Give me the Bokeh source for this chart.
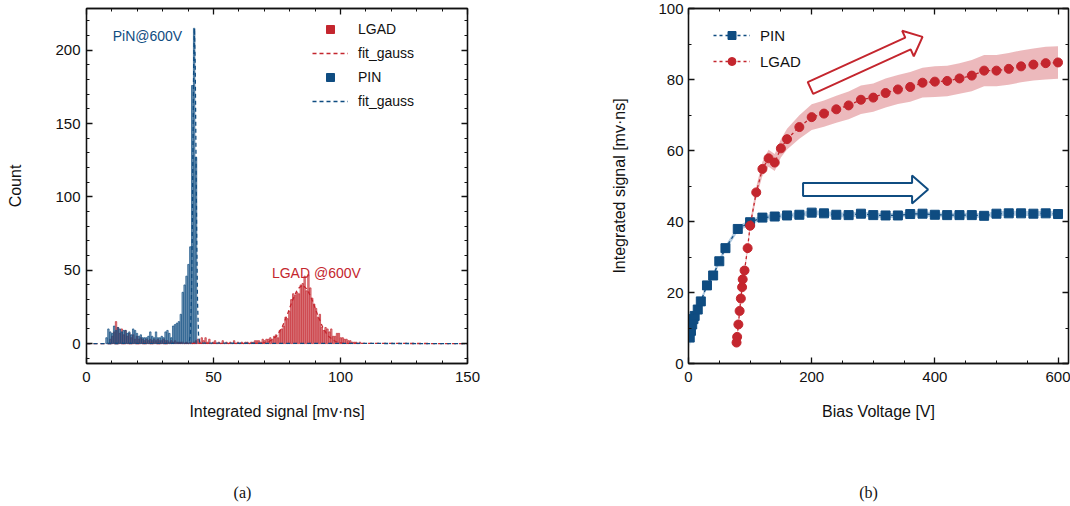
import numpy as np
from bokeh.plotting import figure
from bokeh.models import (ColumnDataSource, LinearAxis, SingleIntervalTicker, Legend,
                          LegendItem, Label, Range1d, CustomJSTickFormatter)
from bokeh.layouts import row, column
from bokeh.embed import file_html
from bokeh.resources import INLINE

# ---------------- data, panel (a): histograms ----------------
BIN_W = 0.75            # histogram bin width [mv*ns]
pin_first_bin = 10      # index of first listed PIN bin
pin_counts = [4, 10, 8, 7, 12, 9, 11, 10, 8, 9, 9, 7, 8, 6, 10, 9, 7, 5, 6, 4,
              4, 4, 5, 8, 5, 4, 8, 4, 4, 5, 4, 8, 9, 7, 4, 12, 13, 14, 15, 20,
              35, 40, 46, 54, 66, 176, 215, 127]
lgad_first_bin = 12     # index of first listed LGAD bin
lgad_counts = [3, 5, 8, 15, 11, 7, 10, 6, 9, 5, 7, 4, 6, 3, 5, 3, 4, 3, 2, 3,
               2, 3, 2, 3, 2, 3, 2, 2, 3, 2, 2, 1, 2, 1, 2, 1, 1, 1, 1, 0,
               1, 0, 1, 0, 1, 2,
               3, 1, 4, 2, 4, 1, 3, 0, 1, 2, 0, 1, 0, 2, 0, 1, 0, 1, 0, 2,
               0, 1, 0, 1, 0, 1, 1, 0, 1, 1, 2,
               2, 2, 1, 3, 2, 3, 3, 4, 3, 5, 6, 4, 9, 10, 12, 18, 17, 22, 30, 34,
               33, 35, 34, 40, 41, 46, 36, 47, 38, 31, 27, 24, 18, 20, 11, 9, 11, 10, 8, 10,
               5, 5, 7, 7, 4, 4, 3, 3, 2, 2, 1, 1, 1, 0, 1]
pin_fit_x = [0, 40.4, 40.9, 41.3, 41.6, 41.9, 42.2, 42.5, 42.8, 43.1, 43.4, 43.7, 44.1, 44.6, 150]
pin_fit_y = [0, 0.3, 6, 29, 70, 130, 190, 215, 190, 130, 70, 29, 6, 0.3, 0]
lgad_fit_x = [0, 69, 72, 75, 77, 79, 81, 83, 85, 87, 89, 91, 93, 95, 98, 101, 150]
lgad_fit_y = [0, 0.2, 1.4, 5.4, 11.1, 19.5, 29, 36.9, 40, 36.9, 29, 19.5, 11.1, 5.4, 1.4, 0.2, 0]

# ---------------- data, panel (b): signal vs bias ----------------
pin_v = [2, 4, 6, 8, 10, 15, 20, 30, 40, 50, 60, 80,
         100, 120, 140, 160, 180, 200, 220, 240, 260, 280, 300, 320, 340,
         360, 380, 400, 420, 440, 460, 480, 500, 520, 540, 560, 580, 600]
pin_sig = [7.3, 9.2, 11.0, 12.5, 13.4, 15.2, 17.5, 22.0, 24.8, 28.8, 32.5, 37.9,
           39.8, 41.1, 41.4, 41.7, 41.9, 42.5, 42.3, 41.9, 41.8, 42.2, 41.8, 41.7, 41.7,
           42.1, 42.2, 41.9, 41.8, 41.8, 41.8, 41.6, 42.2, 42.3, 42.3, 42.2, 42.3, 42.1]
pin_err = [3.0, 2.0, 1.5, 1.2, 1.0, 0.9, 0.8, 0.8, 0.8, 0.8, 0.8, 0.8,
           0.7, 0.7, 0.7, 0.7, 0.7, 0.7, 0.7, 0.7, 0.7, 0.7, 0.7, 0.7, 0.7,
           0.7, 0.7, 0.7, 0.7, 0.7, 0.7, 0.7, 0.7, 0.7, 0.7, 0.7, 0.7, 0.7]
lgad_v = [78, 79, 81, 83, 85, 87, 88, 91, 96, 100, 110, 120, 130, 140, 150, 160, 180,
          200, 220, 240, 260, 280, 300, 320, 340, 360, 380, 400, 420, 440, 460, 480,
          500, 520, 540, 560, 580, 600]
lgad_sig = [5.9, 7.5, 11.0, 14.8, 18.3, 21.5, 23.7, 26.2, 32.5, 38.8, 48.2, 54.8, 57.8,
            56.6, 60.6, 63.2, 66.6, 69.4, 70.4, 71.6, 72.7, 74.3, 74.9, 76.2, 77.2, 77.9,
            79.1, 79.4, 79.6, 80.3, 81.1, 82.5, 82.5, 83.0, 83.7, 84.2, 84.6, 84.8]
lgad_err = [0.8, 0.8, 0.8, 0.8, 0.8, 0.8, 0.8, 0.8, 1.0, 1.2, 1.6, 2.0, 2.4, 2.4, 2.6,
            2.9, 3.3, 3.6, 3.7, 3.8, 3.9, 4.0, 4.0, 4.1, 4.1, 4.2, 4.2, 4.3, 4.3, 4.3,
            4.4, 4.4, 4.4, 4.5, 4.5, 4.5, 4.6, 4.6]

# arrows (tail, tip) in data coordinates of panel (b)
red_arrow = (198, 77.6, 380, 92.0)
blue_arrow = (186, 49.0, 389, 49.0)

captions = ["(a)", "(b)"]

FONT = "Liberation Sans"
RED = "#c4262e"
BLUE = "#0f4c81"
BLACK = "#111111"

PAGE_W = 1070
CAP_H = 30
FIG_H = 506 - CAP_H
FRAME_BOTTOM = 363


def style_axis(ax, label_standoff, axis_label_standoff):
    ax.major_tick_in = 6
    ax.major_tick_out = 0
    ax.minor_tick_in = 3
    ax.minor_tick_out = 0
    ax.axis_line_width = 1.3
    ax.axis_line_color = BLACK
    ax.major_tick_line_width = 1.3
    ax.major_tick_line_color = BLACK
    ax.minor_tick_line_color = BLACK
    ax.major_label_text_font = FONT
    ax.major_label_text_font_size = "15px"
    ax.major_label_text_color = BLACK
    ax.major_label_standoff = label_standoff
    ax.axis_label_text_font = FONT
    ax.axis_label_text_font_size = "16px"
    ax.axis_label_text_font_style = "normal"
    ax.axis_label_text_color = BLACK
    ax.axis_label_standoff = axis_label_standoff


def mirror_axis(ticker):
    ax = LinearAxis(ticker=ticker, formatter=CustomJSTickFormatter(code="return '';"))
    ax.major_tick_in = 6
    ax.major_tick_out = 0
    ax.minor_tick_in = 3
    ax.minor_tick_out = 0
    ax.axis_line_width = 1.3
    ax.axis_line_color = BLACK
    ax.major_tick_line_width = 1.3
    ax.major_tick_line_color = BLACK
    ax.minor_tick_line_color = BLACK
    ax.major_label_standoff = 0
    return ax


# ======================= panel (a) =======================
WA = 560
TOP_A = 6
pa = figure(width=WA, height=FIG_H, output_backend="svg", toolbar_location=None,
            x_range=Range1d(0, 150), y_range=Range1d(-13.56, 228.5),
            min_border_left=86, min_border_right=WA - 467, min_border_top=TOP_A,
            min_border_bottom=FIG_H - FRAME_BOTTOM)
pa.grid.visible = False
pa.outline_line_color = BLACK
pa.outline_line_width = 1.3

xt_a = SingleIntervalTicker(interval=50, num_minor_ticks=5)
yt_a = SingleIntervalTicker(interval=50, num_minor_ticks=5)
pa.xaxis.ticker = xt_a
pa.yaxis.ticker = yt_a
pa.xaxis.axis_label = "Integrated signal [mv\u00b7ns]"
pa.yaxis.axis_label = "Count"
style_axis(pa.xaxis[0], 8, 18)
style_axis(pa.yaxis[0], 6, 28)
pa.add_layout(mirror_axis(xt_a), "above")
pa.add_layout(mirror_axis(yt_a), "right")

pin_x = (pin_first_bin + np.arange(len(pin_counts)) + 0.5) * BIN_W
lgad_x = (lgad_first_bin + np.arange(len(lgad_counts)) + 0.5) * BIN_W

pa.vbar(x=lgad_x, top=lgad_counts, width=0.55, bottom=0,
        fill_color=RED, fill_alpha=0.45, line_color=RED, line_width=0.7)
pa.vbar(x=pin_x, top=pin_counts, width=0.55, bottom=0,
        fill_color=BLUE, fill_alpha=0.45, line_color=BLUE, line_width=0.7)
r_fit_l = pa.line(lgad_fit_x, lgad_fit_y, line_color=RED, line_dash="4 3", line_width=1.3)
r_fit_p = pa.line(pin_fit_x, pin_fit_y, line_color=BLUE, line_dash="4 3", line_width=1.3)
# legend-only square patches (NaN positions are never drawn in the plot)
r_sq_l = pa.scatter(x=[np.nan], y=[np.nan], marker="square", size=15, fill_color=RED, line_color=RED)
r_sq_p = pa.scatter(x=[np.nan], y=[np.nan], marker="square", size=15, fill_color=BLUE, line_color=BLUE)

leg_a = Legend(items=[LegendItem(label="LGAD", renderers=[r_sq_l]),
                      LegendItem(label="fit_gauss", renderers=[r_fit_l]),
                      LegendItem(label="PIN", renderers=[r_sq_p]),
                      LegendItem(label="fit_gauss", renderers=[r_fit_p])],
               location=(226, 252), glyph_width=36, glyph_height=20, label_height=20,
               spacing=4, padding=0, margin=0, label_standoff=10,
               border_line_color=None, background_fill_alpha=0,
               label_text_font=FONT, label_text_font_size="14px", label_text_color=BLACK)
pa.add_layout(leg_a)

pa.add_layout(Label(x=24, y=210, text="PiN@600V", text_color=BLUE, text_font=FONT,
                    text_font_size="14px", text_align="center", text_baseline="middle"))
pa.add_layout(Label(x=90.5, y=48.3, text="LGAD @600V", text_color=RED, text_font=FONT,
                    text_font_size="14px", text_align="center", text_baseline="middle"))

# ======================= panel (b) =======================
WB = PAGE_W - WA
TOP_B = 8
XB0, XB1, YB0, YB1 = 0, 617, 0, 100
FRAME_W, FRAME_H = 1068 - 688, FRAME_BOTTOM - TOP_B
pb = figure(width=WB, height=FIG_H, output_backend="svg", toolbar_location=None,
            x_range=Range1d(XB0, XB1), y_range=Range1d(YB0, YB1),
            min_border_left=688 - WA, min_border_right=2, min_border_top=TOP_B,
            min_border_bottom=FIG_H - FRAME_BOTTOM)
pb.grid.visible = False
pb.outline_line_color = BLACK
pb.outline_line_width = 1.3

xt_b = SingleIntervalTicker(interval=200, num_minor_ticks=4)
yt_b = SingleIntervalTicker(interval=20, num_minor_ticks=2)
pb.xaxis.ticker = xt_b
pb.yaxis.ticker = yt_b
pb.xaxis.axis_label = "Bias Voltage [V]"
pb.yaxis.axis_label = "Integrated signal [mv\u00b7ns]"
style_axis(pb.xaxis[0], 8, 18)
style_axis(pb.yaxis[0], 5, 27)
pb.add_layout(mirror_axis(xt_b), "above")
pb.add_layout(mirror_axis(yt_b), "right")

pin_src = ColumnDataSource(dict(v=pin_v, s=pin_sig,
                                lo=[a - b for a, b in zip(pin_sig, pin_err)],
                                hi=[a + b for a, b in zip(pin_sig, pin_err)]))
lgad_src = ColumnDataSource(dict(v=lgad_v, s=lgad_sig,
                                 lo=[a - b for a, b in zip(lgad_sig, lgad_err)],
                                 hi=[a + b for a, b in zip(lgad_sig, lgad_err)]))

pb.varea(x="v", y1="lo", y2="hi", source=lgad_src, fill_color=RED, fill_alpha=0.32)
pb.varea(x="v", y1="lo", y2="hi", source=pin_src, fill_color="#8fb3d3", fill_alpha=0.7)
l_pin = pb.line("v", "s", source=pin_src, line_color=BLUE, line_dash="3 3", line_width=1.3)
s_pin = pb.scatter("v", "s", source=pin_src, marker="square", size=9,
                   fill_color=BLUE, line_color=BLUE)
l_lgad = pb.line("v", "s", source=lgad_src, line_color=RED, line_dash="3 3", line_width=1.3)
s_lgad = pb.scatter("v", "s", source=lgad_src, marker="circle", size=9,
                    fill_color=RED, line_color=RED)

leg_b = Legend(items=[LegendItem(label="PIN", renderers=[l_pin, s_pin]),
                      LegendItem(label="LGAD", renderers=[l_lgad, s_lgad])],
               location=(25, 292), glyph_width=37, glyph_height=20, label_height=20,
               spacing=6, padding=0, margin=0, label_standoff=10,
               border_line_color=None, background_fill_alpha=0,
               label_text_font=FONT, label_text_font_size="15px", label_text_color=BLACK)
pb.add_layout(leg_b)

SX = FRAME_W / (XB1 - XB0)
SY = FRAME_H / (YB1 - YB0)


def block_arrow(x0, y0, x1, y1, body=13, head_w=28, head_len=16):
    X0, Y0, X1, Y1 = x0 * SX, y0 * SY, x1 * SX, y1 * SY
    dx, dy = X1 - X0, Y1 - Y0
    L = float(np.hypot(dx, dy))
    ux, uy = dx / L, dy / L
    nx, ny = -uy, ux
    bx, by = X1 - ux * head_len, Y1 - uy * head_len
    pts = [(X0 + nx * body / 2, Y0 + ny * body / 2),
           (bx + nx * body / 2, by + ny * body / 2),
           (bx + nx * head_w / 2, by + ny * head_w / 2),
           (X1, Y1),
           (bx - nx * head_w / 2, by - ny * head_w / 2),
           (bx - nx * body / 2, by - ny * body / 2),
           (X0 - nx * body / 2, Y0 - ny * body / 2)]
    return [q[0] / SX for q in pts], [q[1] / SY for q in pts]


ax_, ay_ = block_arrow(*red_arrow)
pb.patch(ax_, ay_, fill_color="white", line_color=RED, line_width=2)
bx_, by_ = block_arrow(*blue_arrow)
pb.patch(bx_, by_, fill_color="white", line_color=BLUE, line_width=2)

# ======================= caption strip =======================
pc = figure(width=PAGE_W, height=CAP_H, output_backend="svg", toolbar_location=None,
            x_range=Range1d(0, PAGE_W), y_range=Range1d(0, CAP_H),
            min_border=0, x_axis_type=None, y_axis_type=None)
pc.grid.visible = False
pc.outline_line_color = None
for cx, txt in zip([242, 868], captions):
    pc.add_layout(Label(x=cx, y=14, text=txt, text_color=BLACK, text_font="Liberation Serif",
                        text_font_size="16px", text_align="center", text_baseline="middle"))

layout = column(row(pa, pb), pc)
open("out.html", "w").write(file_html(layout, INLINE))
